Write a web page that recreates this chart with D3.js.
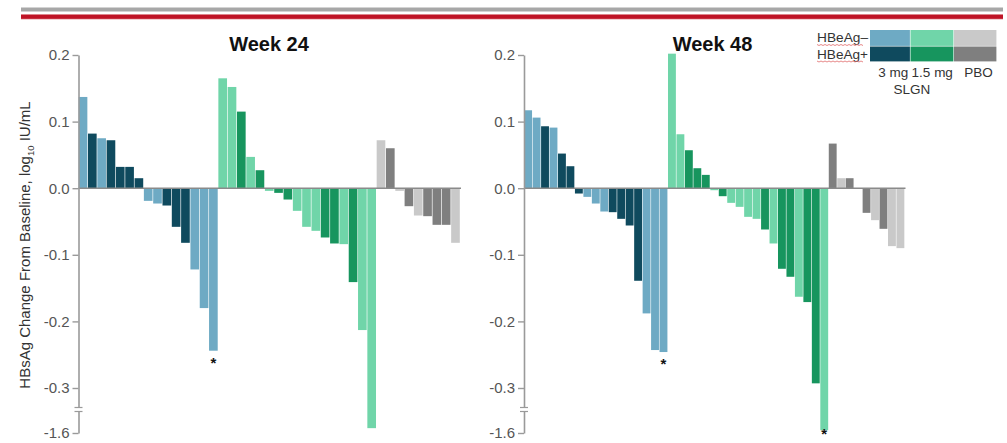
<!DOCTYPE html>
<html>
<head>
<meta charset="utf-8">
<script src="https://cdn.jsdelivr.net/npm/d3@7"></script>
<style>
  body { margin: 0; background: #fff; }
  svg { display: block; }
</style>
</head>
<body>
<svg id="chart" width="1007" height="443"></svg>
<script>
// Treatment groups: dose + HBeAg status
const groupKeys = ["3-", "3+", "1.5-", "1.5+", "P-", "P+"];
const groupColors = ["#6eaac4", "#0f4a5e", "#70d5a9", "#17955e", "#c9c9c9", "#7f7f7f"];

// Week 24 waterfall, one bar per participant (log10 IU/mL change)
const week24Groups = [
  "3-","3+","3-","3+","3+","3+","3+","3-","3-","3+","3+","3+","3-","3-","3-",
  "1.5-","1.5-","1.5+","1.5-","1.5+","1.5-","1.5+","1.5+","1.5-","1.5-","1.5-","1.5+","1.5+","1.5-","1.5+","1.5-","1.5-",
  "P-","P+","P-","P+","P-","P+","P+","P+","P-"
];
const week24Values = [
  0.137, 0.082, 0.075, 0.072, 0.032, 0.032, 0.015, -0.019, -0.023, -0.026, -0.058, -0.082, -0.122, -0.180, -0.244,
  0.165, 0.152, 0.115, 0.047, 0.027, -0.004, -0.007, -0.017, -0.034, -0.058, -0.064, -0.074, -0.083, -0.084, -0.141, -0.213, -1.46,
  0.072, 0.060, -0.004, -0.027, -0.041, -0.042, -0.055, -0.055, -0.082
];
const week24Starred = [14];

// Week 48 waterfall
const week48Groups = [
  "3-","3-","3+","3-","3+","3+","3+","3-","3-","3-","3+","3+","3+","3+","3-","3-","3-",
  "1.5-","1.5-","1.5+","1.5+","1.5+","1.5-","1.5+","1.5-","1.5-","1.5-","1.5-","1.5+","1.5-","1.5+","1.5+","1.5-","1.5+","1.5+","1.5-",
  "P+","P-","P+","P-","P+","P-","P+","P-","P-"
];
const week48Values = [
  0.117, 0.106, 0.093, 0.091, 0.052, 0.033, -0.008, -0.013, -0.023, -0.035, -0.036, -0.046, -0.056, -0.139, -0.188, -0.243, -0.246,
  0.202, 0.081, 0.057, 0.030, 0.020, -0.003, -0.012, -0.022, -0.028, -0.043, -0.046, -0.062, -0.083, -0.121, -0.133, -0.163, -0.171, -0.293, -1.52,
  0.067, 0.015, 0.015, -0.001, -0.037, -0.048, -0.061, -0.087, -0.090
];
const week48Starred = [16, 35];

const yTicks = [0.2, 0.1, 0.0, -0.1, -0.2, -0.3, -1.6];
const panelTitles = ["Week 24", "Week 48"];
const legendRows = ["HBeAg\u2013", "HBeAg+"];
const legendCols = ["3 mg", "1.5 mg", "PBO"];
const legendDrug = "SLGN";

const svg = d3.select("#chart");
const color = d3.scaleOrdinal().domain(groupKeys).range(groupColors);

// Broken axis: linear down to -0.3, then compressed segment to -1.6
const y = d3.scaleLinear().domain([0.2, -0.3, -1.6]).range([55, 388, 433]);

// Header rules
svg.append("rect").attr("x", 21).attr("y", 7.5).attr("width", 982).attr("height", 4).attr("fill", "#a7a7a7");
svg.append("rect").attr("x", 21).attr("y", 14).attr("width", 982).attr("height", 5.5).attr("fill", "#e8a0a6");
svg.append("rect").attr("x", 21).attr("y", 14.8).attr("width", 982).attr("height", 4).attr("fill", "#bf1426");

// Y axis title
const yt = svg.append("text")
  .attr("transform", "translate(30,245) rotate(-90)")
  .attr("text-anchor", "middle")
  .attr("font-family", "Liberation Sans, Arial, sans-serif")
  .attr("font-size", 15)
  .attr("fill", "#333");
yt.append("tspan").text("HBsAg Change From Baseline, log");
yt.append("tspan").attr("font-size", 9.5).attr("dy", 4).text("10");
yt.append("tspan").attr("dy", -4).text(" IU/mL");

function drawPanel(values, groups, starred, x0, x1, title, titleX) {
  const g = svg.append("g");
  const x = d3.scaleBand().domain(d3.range(values.length)).range([x0, x1]).paddingInner(0.07).paddingOuter(0.02);

  g.selectAll("rect.bar")
    .data(values)
    .join("rect")
    .attr("class", "bar")
    .attr("x", (d, i) => x(i))
    .attr("width", x.bandwidth())
    .attr("y", d => Math.min(y(d), y(0)))
    .attr("height", d => Math.abs(y(d) - y(0)))
    .attr("fill", (d, i) => color(groups[i]));

  // zero baseline
  g.append("line")
    .attr("x1", x0).attr("x2", x1 + 1)
    .attr("y1", y(0)).attr("y2", y(0))
    .attr("stroke", "#8a8a8a").attr("stroke-width", 1.6);

  // y axis
  const axis = d3.axisLeft(y)
    .tickValues(yTicks)
    .tickFormat(d => d.toFixed(1))
    .tickSize(6)
    .tickSizeOuter(0)
    .tickPadding(3);
  const ag = g.append("g").attr("transform", `translate(${x0},0)`).call(axis);
  ag.select(".domain").attr("stroke", "#9a9a9a").attr("stroke-width", 1.6);
  ag.selectAll(".tick line").attr("stroke", "#9a9a9a").attr("stroke-width", 1.4);
  ag.selectAll(".tick text")
    .attr("font-family", "Liberation Sans, Arial, sans-serif")
    .attr("font-size", 15)
    .attr("fill", "#555");

  // axis break marks
  g.append("rect").attr("x", x0 - 5).attr("y", 408).attr("width", 10).attr("height", 3).attr("fill", "#fff");
  [407.5, 411.5].forEach(yy => {
    g.append("line")
      .attr("x1", x0 - 4).attr("x2", x0 + 4)
      .attr("y1", yy).attr("y2", yy)
      .attr("stroke", "#9a9a9a").attr("stroke-width", 1.2);
  });

  // significance markers
  g.selectAll("text.star")
    .data(starred)
    .join("text")
    .attr("class", "star")
    .attr("x", i => x(i) + x.bandwidth() / 2)
    .attr("y", i => Math.min(y(values[i]) + 17, 439))
    .attr("text-anchor", "middle")
    .attr("font-family", "Liberation Sans, Arial, sans-serif")
    .attr("font-size", 15)
    .attr("font-weight", "bold")
    .attr("fill", "#111")
    .text("*");

  g.append("text")
    .attr("x", titleX).attr("y", 50.5)
    .attr("text-anchor", "middle")
    .attr("font-family", "Liberation Sans, Arial, sans-serif")
    .attr("font-size", 20)
    .attr("font-weight", "bold")
    .attr("fill", "#111")
    .text(title);
}

drawPanel(week24Values, week24Groups, week24Starred, 78.5, 460, panelTitles[0], 269);
drawPanel(week48Values, week48Groups, week48Starred, 524, 904.5, panelTitles[1], 712.5);

// Legend grid: columns = dose, rows = HBeAg status
const lg = svg.append("g");
const colEdges = [870, 910.5, 954, 997];
const rowEdges = [30, 46.5, 62];
for (let r = 0; r < 2; r++) {
  for (let c = 0; c < 3; c++) {
    lg.append("rect")
      .attr("x", colEdges[c])
      .attr("y", rowEdges[r])
      .attr("width", colEdges[c + 1] - colEdges[c] - 0.6)
      .attr("height", rowEdges[r + 1] - rowEdges[r] - 0.6)
      .attr("fill", color(groupKeys[c * 2 + r]));
  }
}
legendRows.forEach((t, r) => {
  const ty = rowEdges[r] + 12;
  lg.append("text")
    .attr("x", 868).attr("y", ty)
    .attr("text-anchor", "end")
    .attr("font-family", "Liberation Sans, Arial, sans-serif")
    .attr("font-size", 12.5)
    .attr("textLength", 51)
    .attr("lengthAdjust", "spacingAndGlyphs")
    .attr("fill", "#333")
    .text(t);
  // proofing squiggle under the row label
  const pts = d3.range(0, 24).map(k => [817 + k * 2, ty + 2.5 + (k % 2 ? 1 : 0)]);
  lg.append("path")
    .attr("d", d3.line()(pts))
    .attr("fill", "none")
    .attr("stroke", "#e06a6a")
    .attr("stroke-width", 0.8);
});
legendCols.forEach((t, c) => {
  lg.append("text")
    .attr("x", (colEdges[c] + colEdges[c + 1]) / 2 + (c === 0 ? 3 : c === 2 ? 3 : 0))
    .attr("y", 77)
    .attr("text-anchor", "middle")
    .attr("font-family", "Liberation Sans, Arial, sans-serif")
    .attr("font-size", 13.5)
    .attr("fill", "#333")
    .text(t);
});
lg.append("text")
  .attr("x", 912).attr("y", 94)
  .attr("text-anchor", "middle")
  .attr("font-family", "Liberation Sans, Arial, sans-serif")
  .attr("font-size", 13.5)
  .attr("fill", "#333")
  .text(legendDrug);
</script>
</body>
</html>
